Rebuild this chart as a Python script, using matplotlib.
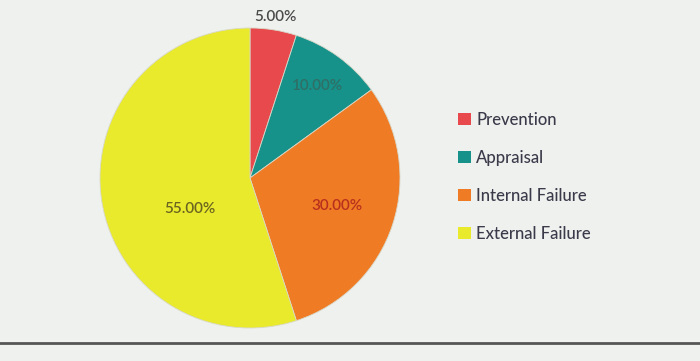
import matplotlib
matplotlib.use("Agg")
import matplotlib.pyplot as plt
import numpy as np
from matplotlib.patches import Patch
from matplotlib.lines import Line2D

categories = ["Prevention", "Appraisal", "Internal Failure", "External Failure"]
values = [5, 10, 30, 55]
pct_labels = ["5.00%", "10.00%", "30.00%", "55.00%"]
colors = ["#e8494c", "#16928a", "#f07b25", "#e9ea2c"]
label_colors = ["#4a4a4a", "#2f6f66", "#b8301c", "#6a6420"]

plt.rcParams['font.family'] = ['Lato', 'DejaVu Sans']

fig = plt.figure(figsize=(7, 3.61), dpi=100)
fig.patch.set_facecolor("#eff1ee")

ax = fig.add_axes([100/700, 1 - 328/361, 300/700, 300/361])
ax.set_facecolor("none")
wedges, _ = ax.pie(values, colors=colors, startangle=90, counterclock=False,
                   wedgeprops=dict(linewidth=0.6, edgecolor="#d8d8c8"))
ax.set_xlim(-1, 1)
ax.set_ylim(-1, 1)
ax.set_aspect("auto")

# label placement (radius, angle offset in degrees) per slice
dists = [1.09, 0.76, 0.61, 0.45]
offsets = [0, 0, 0, 18]
for w, lab, d, off, c in zip(wedges, pct_labels, dists, offsets, label_colors):
    ang = np.deg2rad((w.theta1 + w.theta2) / 2 + off)
    ax.text(d * np.cos(ang), d * np.sin(ang), lab, ha="center", va="center",
            fontsize=11, color=c, fontweight="semibold")

handles = [Patch(facecolor=c, edgecolor="none") for c in colors]
leg = fig.legend(handles, categories, loc="upper left",
                 bbox_to_anchor=(443/700, 1 - 97/361), frameon=False,
                 fontsize=12, handlelength=0.75, handleheight=0.75,
                 handletextpad=0.35, labelspacing=1.32, labelcolor="#3a3a4a")
for t in leg.get_texts():
    t.set_fontweight("medium")

fig.add_artist(Line2D([0, 1], [1 - 343/361, 1 - 343/361], color="#555555",
                      linewidth=2, transform=fig.transFigure))

fig.savefig("out.png", dpi=100, facecolor=fig.get_facecolor())
